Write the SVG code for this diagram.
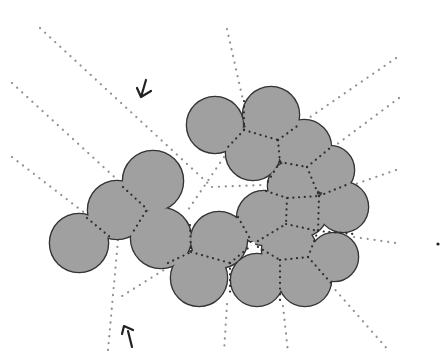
<svg xmlns="http://www.w3.org/2000/svg" xmlns:xlink="http://www.w3.org/1999/xlink" width="442" height="354" viewBox="0 0 442 354">
<style>
.ray{fill:none;stroke:#909090;stroke-width:2.2;stroke-linecap:round;stroke-dasharray:0.1 6.8}
.inner{fill:none;stroke:#2e2e2e;stroke-width:2.2;stroke-linecap:round;stroke-dasharray:0.1 5.6}
.arrow{fill:none;stroke:#222;stroke-width:2.2;stroke-linecap:round;stroke-linejoin:round}
</style>
<defs>
<g id="cells">
<circle cx="79" cy="243" r="29"/>
<circle cx="117" cy="210" r="29"/>
<circle cx="153" cy="181" r="30"/>
<circle cx="161" cy="238" r="30"/>
<circle cx="219" cy="240" r="28"/>
<circle cx="199" cy="278" r="28"/>
<circle cx="257" cy="280" r="26"/>
<circle cx="305" cy="280" r="26"/>
<circle cx="334" cy="257" r="24"/>
<circle cx="264" cy="218" r="27"/>
<circle cx="289" cy="250" r="27"/>
<circle cx="303" cy="212" r="24"/>
<circle cx="343" cy="207" r="25"/>
<circle cx="293" cy="186" r="25"/>
<circle cx="330" cy="170" r="24"/>
<circle cx="253" cy="153" r="27"/>
<circle cx="304" cy="147" r="27"/>
<circle cx="215" cy="125" r="28"/>
<circle cx="271" cy="115" r="28"/>
</g>
</defs>
<rect width="442" height="354" fill="#ffffff"/>
<g id="rays">
<path class="ray" d="M40,28 L212,187"/>
<path class="ray" d="M224,157 L188,210"/>
<path class="ray" d="M212,187 L264,185"/>
<path class="ray" d="M12,83 L122,184"/>
<path class="ray" d="M12,157 L86,214"/>
<path class="ray" d="M227,29 L243,100"/>
<path class="ray" d="M396,58 L300,124"/>
<path class="ray" d="M399,98 L332,148"/>
<path class="ray" d="M396,170 L350,186"/>
<path class="ray" d="M354,237 L396,243"/>
<path class="ray" d="M331,285 L390,352"/>
<path class="ray" d="M283,306 L288,352"/>
<path class="ray" d="M227,304 L224,352"/>
<path class="ray" d="M118,240 L108,350"/>
<path class="ray" d="M175,263 L122,296"/>
<circle cx="438" cy="244" r="1.6" fill="#222"/>
</g>
<g id="cluster">
<use xlink:href="#cells" fill="#a0a0a0" stroke="#333" stroke-width="2.6"/>
<use xlink:href="#cells" fill="#a0a0a0" stroke="none"/>
</g>
<g id="boundaries">
<path class="inner" d="M87,218 L110,237"/>
<path class="inner" d="M123,187 L147,209"/>
<path class="inner" d="M146,211 L133,232"/>
<path class="inner" d="M190,225 L191,252"/>
<path class="inner" d="M168,263 L191,252"/>
<path class="inner" d="M191,252 L230,263"/>
<path class="inner" d="M230,263 L230,292"/>
<path class="inner" d="M230,263 L253,244"/>
<path class="inner" d="M238,217 L253,244"/>
<path class="inner" d="M253,244 L280,260"/>
<path class="inner" d="M280,260 L280,305"/>
<path class="inner" d="M280,260 L308,257"/>
<path class="inner" d="M308,257 L331,283"/>
<path class="inner" d="M308,257 L318,231"/>
<path class="inner" d="M253,244 L286,224"/>
<path class="inner" d="M286,224 L318,231"/>
<path class="inner" d="M318,231 L353,234"/>
<path class="inner" d="M287,198 L286,224"/>
<path class="inner" d="M319,196 L318,231"/>
<path class="inner" d="M266,191 L287,198 L319,196"/>
<path class="inner" d="M319,196 L346,185"/>
<path class="inner" d="M307,167 L319,196"/>
<path class="inner" d="M280,162 L307,167"/>
<path class="inner" d="M307,167 L330,148"/>
<path class="inner" d="M280,162 L267,183"/>
<path class="inner" d="M278,140 L280,162"/>
<path class="inner" d="M244,130 L278,140"/>
<path class="inner" d="M278,140 L300,124"/>
<path class="inner" d="M244,101 L244,130"/>
<path class="inner" d="M244,130 L228,147"/>
<circle cx="253" cy="244" r="2.2" fill="#fff"/>
</g>
<g id="arrows">
<path class="arrow" d="M146,80 L141,97 M137,88 L141,97 L151,91"/>
<path class="arrow" d="M132,347 L128,331 M122,334 L124,326 L133,330"/>
</g>
</svg>
